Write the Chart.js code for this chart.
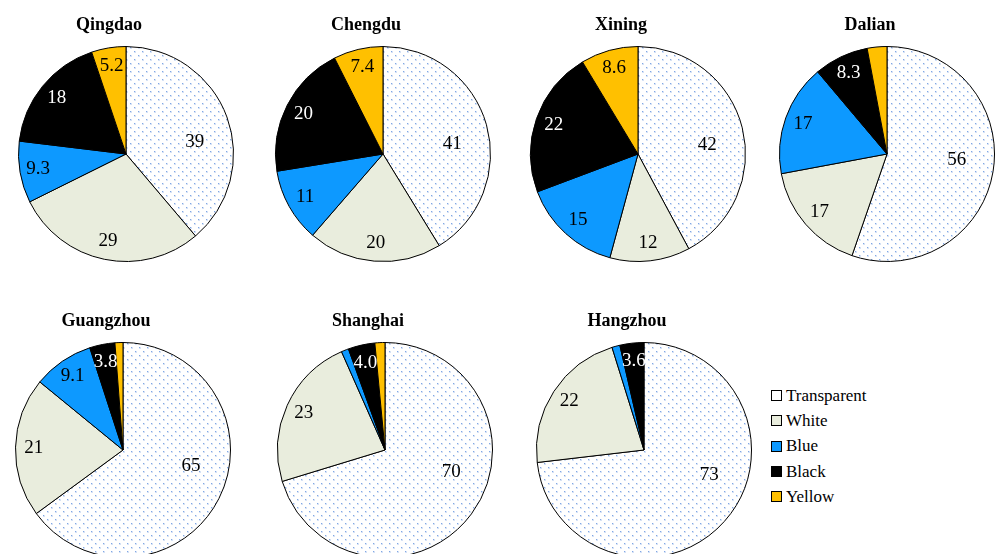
<!DOCTYPE html>
<html>
<head>
<meta charset="utf-8">
<script src="https://cdn.jsdelivr.net/npm/chart.js@4.4.0/dist/chart.umd.min.js"></script>
<style>
  html, body { margin: 0; padding: 0; width: 998px; height: 554px; overflow: hidden; background: #fff; }
  body { position: relative; }
  canvas { position: absolute; }
  #legend { position: absolute; left: 771px; top: 383px; font-family: 'Liberation Serif', 'Times New Roman', serif; font-size: 17px; color: #000; }
  #legend .row { height: 25.3px; display: flex; align-items: center; }
  #legend .box { width: 9px; height: 9px; border: 1px solid #000; margin-right: 4px; }
</style>
</head>
<body>
<div id="legend"></div>
<script>
const categories = ['Transparent', 'White', 'Blue', 'Black', 'Yellow']
const cities = ['Qingdao', 'Chengdu', 'Xining', 'Dalian', 'Guangzhou', 'Shanghai', 'Hangzhou']

// percent share per colour, same order as categories
const qingdao = [39, 29, 9.3, 18, 5.2]
const chengdu = [41, 20, 11, 20, 7.4]
const xining = [42, 12, 15, 22, 8.6]
const dalian = [56, 17, 17, 8.3, 3.0]
const guangzhou = [65, 21, 9.1, 3.8, 1.2]
const shanghai = [70, 23, 1.1, 4.0, 1.5]
const hangzhou = [73, 22, 1.2, 3.6, 0]
const cityValues = [qingdao, chengdu, xining, dalian, guangzhou, shanghai, hangzhou]

// where each pie sits on the page (centre x, centre y)
const pieCenters = [[126, 154], [383, 154], [638, 154], [887, 154], [123, 450], [385, 450], [644, 450]]

const serif = "'Liberation Serif', 'Times New Roman', serif"

// dotted fill for the "Transparent" slices
const dotPattern = (() => {
  const c = document.createElement('canvas')
  c.width = 8
  c.height = 8
  const g = c.getContext('2d')
  g.fillStyle = '#fff'
  g.fillRect(0, 0, 8, 8)
  g.fillStyle = '#d6e2f6'
  g.fillRect(1, 1, 2, 2)
  g.fillRect(5, 5, 2, 2)
  g.fillStyle = '#80a7e4'
  g.fillRect(1, 1, 1, 1)
  g.fillRect(5, 5, 1, 1)
  return g.createPattern(c, 'repeat')
})()

const colors = [dotPattern, '#e9eddd', '#0d99ff', '#000000', '#ffc000']
const legendColors = ['#ffffff', '#e9eddd', '#0d99ff', '#000000', '#ffc000']

const fmt = v => v >= 10 ? String(Math.round(v)) : v.toFixed(1)

// value labels inside slices (tiny slices are left unlabelled like the original)
const sliceLabels = {
  id: 'sliceLabels',
  afterDatasetsDraw(chart) {
    const ctx = chart.ctx
    const values = chart.data.datasets[0].data
    ctx.save()
    ctx.font = '19px ' + serif
    ctx.textAlign = 'center'
    ctx.textBaseline = 'middle'
    chart.getDatasetMeta(0).data.forEach((arc, i) => {
      const v = values[i]
      if (v < 3.5) return
      const p = arc.getProps(['x', 'y', 'startAngle', 'endAngle', 'outerRadius'], true)
      let a = (p.startAngle + p.endAngle) / 2
      let r = p.outerRadius * 0.83
      if (i === 0) {
        // big slice: label pulled toward the right side, nearer the middle
        a = a * 0.5
        r = p.outerRadius * 0.65
      }
      ctx.fillStyle = i === 3 ? '#fff' : '#000'
      ctx.fillText(fmt(v), p.x + Math.cos(a) * r, p.y + Math.sin(a) * r)
    })
    ctx.restore()
  }
}

// city name above each pie, sits a bit left of the pie centre
const cityTitle = {
  id: 'cityTitle',
  afterDraw(chart, args, opts) {
    const ctx = chart.ctx
    const area = chart.chartArea
    ctx.save()
    ctx.font = 'bold 18px ' + serif
    ctx.fillStyle = '#000'
    ctx.textAlign = 'center'
    ctx.textBaseline = 'middle'
    ctx.fillText(opts.text, (area.left + area.right) / 2 - 17, 11)
    ctx.restore()
  }
}

cities.forEach((name, k) => {
  const [cx, cy] = pieCenters[k]
  const canvas = document.createElement('canvas')
  canvas.width = 250
  canvas.height = 260
  canvas.style.left = (cx - 125) + 'px'
  canvas.style.top = (cy - 140) + 'px'
  document.body.appendChild(canvas)
  new Chart(canvas, {
    type: 'pie',
    data: {
      labels: categories,
      datasets: [{
        data: cityValues[k],
        backgroundColor: colors,
        borderColor: '#000',
        borderWidth: 1,
        hoverOffset: 0,
        offset: 0,
      }]
    },
    options: {
      responsive: false,
      animation: false,
      events: [],
      layout: { padding: { left: 17, right: 17, top: 32, bottom: 12 } },
      plugins: {
        legend: { display: false },
        tooltip: { enabled: false },
        cityTitle: { text: name },
      }
    },
    plugins: [sliceLabels, cityTitle]
  })
})

// legend
const legend = document.getElementById('legend')
categories.forEach((c, i) => {
  const row = document.createElement('div')
  row.className = 'row'
  const box = document.createElement('span')
  box.className = 'box'
  box.style.background = legendColors[i]
  const txt = document.createElement('span')
  txt.textContent = c
  row.appendChild(box)
  row.appendChild(txt)
  legend.appendChild(row)
})
</script>
</body>
</html>
